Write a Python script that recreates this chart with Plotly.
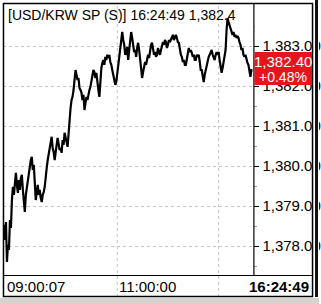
import plotly.graph_objects as go

# ---- data ----
price = [
1378.53,1378.15,1378.60,1377.60,1378.03,1377.90,1378.65,1378.45,1379.15,1379.48,
1379.28,1379.70,1379.83,1379.53,1379.33,1379.65,1379.40,1379.70,1379.78,1379.40,
1379.20,1378.85,1379.28,1379.45,1379.65,1379.90,1380.03,1380.15,1380.23,1379.90,
1380.03,1379.53,1379.15,1379.35,1379.53,1379.28,1379.40,1379.20,1379.10,1379.28,
1379.35,1379.48,1379.78,1379.95,1380.15,1380.28,1380.40,1380.53,1380.73,1380.45,
1380.35,1380.15,1380.45,1380.53,1380.70,1380.53,1380.40,1380.45,1380.33,1380.65,
1380.53,1380.83,1380.65,1380.60,1380.48,1380.90,1381.33,1381.45,1381.65,1381.73,
1381.90,1382.10,1382.40,1382.28,1382.15,1382.20,1381.95,1381.90,1381.83,1381.65,
1381.78,1381.40,1381.53,1381.73,1381.65,1381.85,1381.90,1381.98,1382.15,1382.28,
1382.40,1382.35,1382.20,1382.33,1382.03,1381.90,1381.73,1382.28,1382.45,1382.58,
1382.65,1382.53,1382.73,1382.65,1382.78,1382.70,1382.78,1382.60,1382.53,1382.40,
1382.28,1382.15,1382.03,1382.10,1382.33,1382.40,1382.65,1383.03,1383.20,1383.35,
1383.15,1383.03,1382.78,1382.83,1382.98,1382.65,1382.90,1383.15,1383.35,1383.20,
1383.03,1382.85,1382.90,1382.73,1382.95,1383.08,1382.90,1382.70,1382.40,1382.20,
1382.35,1382.45,1382.60,1382.53,1382.65,1382.78,1382.70,1382.90,1383.03,1383.08,
1382.90,1382.78,1382.85,1382.73,1382.78,1382.95,1382.85,1382.78,1382.90,1382.98,
1383.10,1383.03,1383.15,1383.10,1382.95,1383.03,1383.15,1383.10,1383.15,1383.23,
1383.28,1383.15,1383.23,1383.28,1383.20,1383.10,1383.08,1382.90,1382.78,1382.73,
1382.60,1382.65,1382.53,1382.53,1382.70,1382.85,1382.95,1382.85,1382.90,1382.83,
1382.73,1382.78,1382.65,1382.65,1382.78,1382.73,1382.78,1382.60,1382.40,1382.40,
1382.20,1382.10,1382.28,1382.40,1382.53,1382.65,1382.73,1382.78,1382.85,1382.90,
1382.78,1382.70,1382.65,1382.78,1382.85,1382.78,1382.85,1382.65,1382.45,1382.33,
1382.45,1382.60,1382.65,1382.90,1383.40,1383.70,1383.60,1383.53,1383.45,1383.40,
1383.28,1383.35,1383.23,1383.28,1383.20,1383.25,1383.20,1383.10,1383.03,1382.90,
1382.95,1382.78,1382.73,1382.78,1382.65,1382.58,1382.53,1382.35,1382.23,1382.40,
1382.40,
]
tick_idx = [0, 114, 216]          # sample index of time gridlines
tick_text = ["09:00:07", "11:00:00", ""]
last_time = "16:24:49"
title_text = "[USD/KRW SP (S)] 16:24:49 1,382.4"
last_price = "1,382.40"
last_change = "+0.48%"
y_ticks = [1378, 1379, 1380, 1381, 1382, 1383]

W, H = 321, 304
def px(x): return x / W
def py(y): return 1 - y / H

x = list(range(len(price)))
FONT = "Liberation Sans, Arial, sans-serif"

fig = go.Figure()
fig.add_trace(go.Scatter(x=x, y=price, mode="lines",
                         line=dict(color="black", width=2.2), hoverinfo="skip"))

fig.update_layout(
    width=W, height=H, margin=dict(l=0, r=0, t=0, b=0),
    paper_bgcolor="white", plot_bgcolor="white", showlegend=False,
    xaxis=dict(domain=[px(3), px(255)], range=[-1, len(price)], showgrid=False,
               showticklabels=False, ticks="", zeroline=False, showline=False),
    yaxis=dict(domain=[1 - 275 / H, 1 - 3 / H], range=[1377.275, 1384.075],
               side="right", tickvals=y_ticks, tickformat=",.2f",
               ticks="outside", ticklen=5, tickcolor="black", tickwidth=1,
               tickfont=dict(family=FONT, size=15, color="black"),
               showgrid=True, gridcolor="#c4c4c4", griddash="3px,3px", gridwidth=1,
               zeroline=False, showline=False,
               minor=dict(dtick=0.5, ticks="outside", ticklen=3, tickcolor="#999999",
                          showgrid=False)),
)

shapes = []
# vertical time gridlines extending through label row
for t in tick_idx[1:]:
    shapes.append(dict(type="line", xref="x", yref="paper", x0=t, x1=t,
                       y0=py(297), y1=py(3), line=dict(color="#c4c4c4", width=1, dash="3px,3px"),
                       layer="below"))
# covers and frame
shapes += [
    dict(type="rect", xref="paper", yref="paper", x0=px(256), x1=px(314), y0=py(40), y1=py(3.5),
         fillcolor="white", line=dict(width=0), layer="above"),
    dict(type="rect", xref="paper", yref="paper", x0=px(314.5), x1=1, y0=0, y1=1,
         fillcolor="white", line=dict(width=0), layer="above"),
    dict(type="rect", xref="paper", yref="paper", x0=px(317), x1=px(320), y0=py(297), y1=1,
         fillcolor="#111111", line=dict(width=0), layer="above"),
    dict(type="rect", xref="paper", yref="paper", x0=0, x1=1, y0=0, y1=py(298),
         fillcolor="#d6d3ce", line=dict(width=0), layer="above"),
    dict(type="rect", xref="paper", yref="paper", x0=px(3.5), x1=px(314.5), y0=py(296.5), y1=py(3.5),
         fillcolor="rgba(0,0,0,0)", line=dict(color="black", width=1.5), layer="above"),
    dict(type="line", xref="paper", yref="paper", x0=px(255.5), x1=px(255.5), y0=py(275), y1=py(3.5),
         line=dict(color="black", width=1.2), layer="above"),
    dict(type="line", xref="paper", yref="paper", x0=px(3.5), x1=px(314.5), y0=py(275.5), y1=py(275.5),
         line=dict(color="black", width=1.2), layer="above"),
    dict(type="rect", xref="paper", yref="paper", x0=px(256), x1=px(314), y0=py(85), y1=py(52),
         fillcolor="#e8141c", line=dict(width=0), layer="above"),
]
fig.update_layout(shapes=shapes)

ann = [
    dict(text=title_text, xref="paper", yref="paper", x=px(6), y=py(15), xanchor="left",
         yanchor="middle", showarrow=False, font=dict(family=FONT, size=14, color="black")),
    dict(text=last_price, xref="paper", yref="paper", x=px(285), y=py(61.5), xanchor="center",
         yanchor="middle", showarrow=False, font=dict(family=FONT, size=15, color="white")),
    dict(text=last_change, xref="paper", yref="paper", x=px(285), y=py(77), xanchor="center",
         yanchor="middle", showarrow=False, font=dict(family=FONT, size=14, color="white")),
    dict(text="<b>" + last_time + "</b>", xref="paper", yref="paper", x=px(313), y=py(286.5),
         xanchor="right", yanchor="middle", showarrow=False,
         font=dict(family=FONT, size=15, color="black")),
]
for t, lab in zip(tick_idx, tick_text):
    if lab:
        ann.append(dict(text=lab, xref="x", yref="paper", x=t, y=py(286.5), xanchor="left",
                        yanchor="middle", showarrow=False, xshift=1 if t == 0 else 0,
                        font=dict(family=FONT, size=15, color="black")))
fig.update_layout(annotations=ann)

fig.write_html("out.html")
